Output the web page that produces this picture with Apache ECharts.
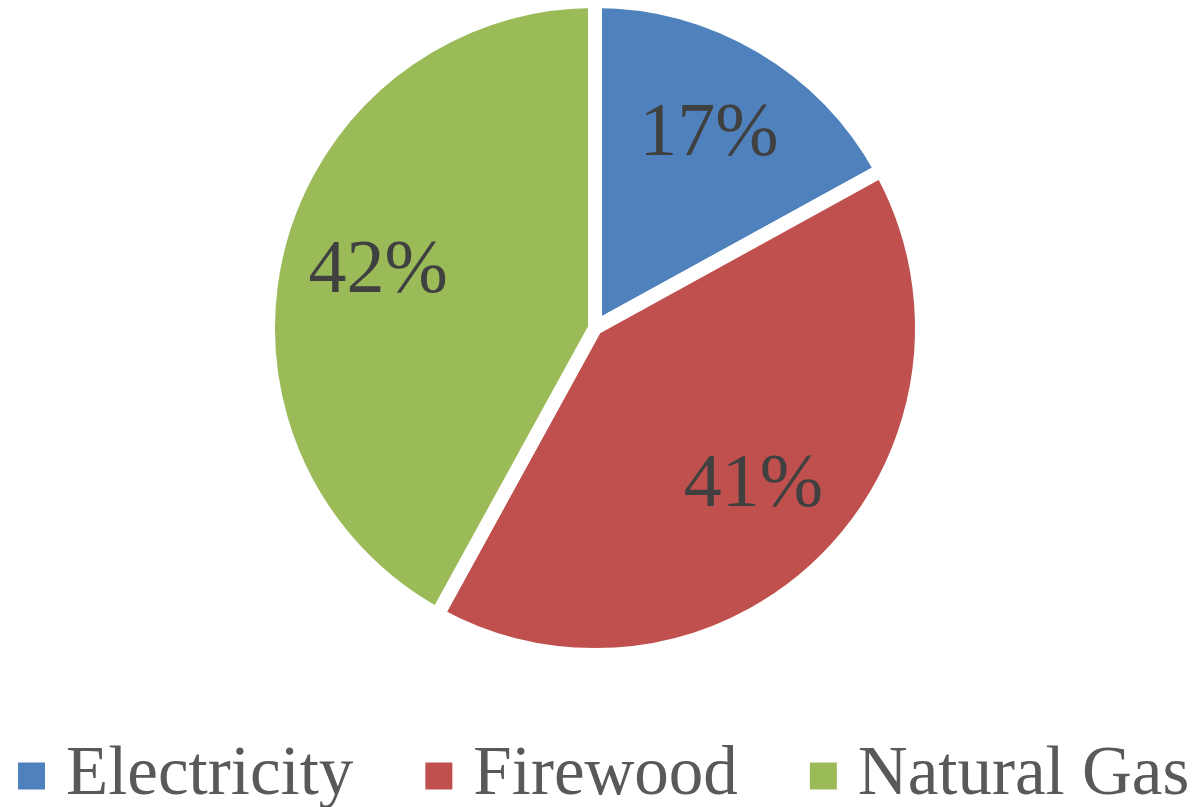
<!DOCTYPE html>
<html>
<head>
<meta charset="utf-8">
<script src="https://cdn.jsdelivr.net/npm/echarts@6/dist/echarts.min.js"></script>
<style>html,body{margin:0;padding:0;background:#fff;}#chart{width:1201px;height:807px;}</style>
</head>
<body>
<div id="chart"></div>
<script>
const categories = ['Electricity', 'Firewood', 'Natural Gas'];
const values = [17, 41, 42];
const colors = ['#4F81BD', '#C0504D', '#9BBB59'];

const chart = echarts.init(document.getElementById('chart'), null, {renderer: 'canvas'});
const pieData = categories.map((n, i) => ({name: n, value: values[i], itemStyle: {color: colors[i]}}));
const labelData = categories.map((n, i) => ({name: n, value: values[i]}));

chart.setOption({
  animation: false,
  backgroundColor: '#ffffff',
  legend: {
    data: categories,
    left: 16,
    top: 741,
    width: 1500,
    padding: 0,
    itemWidth: 29,
    itemHeight: 29,
    itemGap: 70,
    icon: 'rect',
    textStyle: {
      fontFamily: 'Liberation Serif',
      fontSize: 69,
      lineHeight: 70,
      color: '#595959',
      padding: [0, 0, 0, 15]
    }
  },
  series: [
    {
      type: 'pie',
      center: [595, 328],
      radius: [0, 327],
      startAngle: 90,
      clockwise: true,
      silent: true,
      label: {show: false},
      labelLine: {show: false},
      itemStyle: {borderColor: '#ffffff', borderWidth: 14},
      data: pieData
    },
    {
      type: 'pie',
      center: [595, 328],
      radius: [0, 442],
      startAngle: 90,
      clockwise: true,
      silent: true,
      legendHoverLink: false,
      itemStyle: {color: 'rgba(0,0,0,0)', borderWidth: 0},
      label: {
        show: true,
        position: 'inside',
        formatter: '{d}%',
        fontFamily: 'Liberation Serif',
        fontSize: 76,
        color: '#404040'
      },
      labelLine: {show: false},
      data: labelData
    }
  ]
});
</script>
</body>
</html>
